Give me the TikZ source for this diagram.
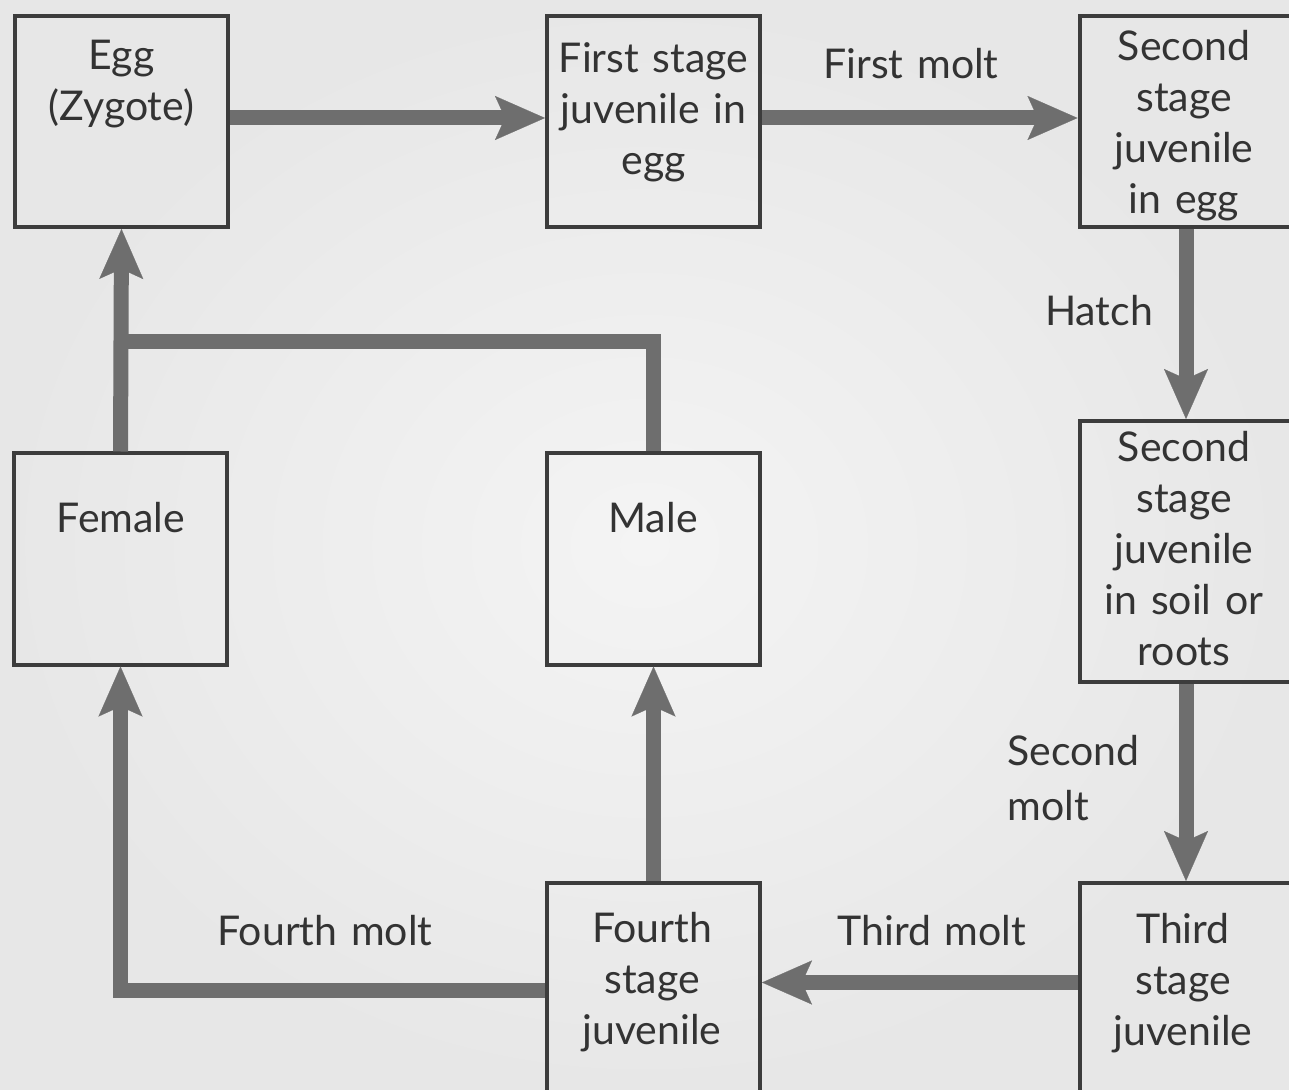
\documentclass[tikz,border=0pt]{standalone}
\usepackage{fontspec}
\setmainfont{Lato}[WordSpace=1.3]
\usetikzlibrary{arrows.meta,calc}
\definecolor{paperin}{HTML}{F4F4F4}
\definecolor{paperout}{HTML}{E7E7E7}
\definecolor{boxline}{HTML}{3C3C3C}
\definecolor{flowgray}{HTML}{6E6E6E}
\definecolor{ink}{HTML}{333333}
\begin{document}
\begin{tikzpicture}[x=0.5pt,y=-0.5pt,
  stagebox/.style={draw=boxline,line width=2pt,rectangle,inner sep=0pt,
    minimum width=106.5pt,minimum height=#1},
  stagebox/.default=105.5pt,
  flow/.style={draw=flowgray,line width=7.5pt,line join=miter,
    -{Stealth[length=25pt,width=22pt,inset=5pt,line width=0.1pt]}},
  bar/.style={draw=flowgray,line width=7.5pt,line join=miter},
  txt/.style={text=ink,font=\fontsize{20.5}{25.5}\selectfont,align=center,
    inner sep=0pt,anchor=north},
]
% paper
\useasboundingbox (0,0) rectangle (1289,1090);
\shade[inner color=paperin,outer color=paperout] (0,0) rectangle (1289,1090);

% stage boxes
\node[stagebox] (egg)    at (121.5,121.5) {};
\node[stagebox] (first)  at (653.5,121.5) {};
\node[stagebox] (egg2)   at (1186,121.5) {};
\node[stagebox=130.5pt] (soil) at (1186,551.5) {};
\node[stagebox] (third)  at (1186,988.5) {};
\node[stagebox] (fourth) at (653.5,988.5) {};
\node[stagebox] (female) at (120.5,559) {};
\node[stagebox] (male)   at (653.5,559) {};

% box texts
\node[txt] (egg-t)    at (121.5,40)  {Egg\\(Zygote)};
\node[txt] (first-t)  at (653.5,42)  {First stage\\juvenile in\\egg};
\node[txt] (egg2-t)   at (1184,30)   {Second\\stage\\juvenile\\in egg};
\node[txt] (soil-t)   at (1184,431)  {Second\\stage\\juvenile\\in soil or\\roots};
\node[txt] (female-t) at (121,502)   {Female};
\node[txt] (male-t)   at (653,502)   {Male};
\node[txt] (third-t)  at (1183,913)  {Third\\stage\\juvenile};
\node[txt] (fourth-t) at (652,912)   {Fourth\\stage\\juvenile};

% transition labels
\node[txt] (l-first)  at (911,48)   {First molt};
\node[txt] (l-hatch)  at (1099,295) {Hatch};
\node[txt,anchor=north west,align=left] (l-second) at (1007,735) {Second\\[2pt]molt};
\node[txt] (l-third)  at (932,915)  {Third molt};
\node[txt] (l-fourth) at (325,915)  {Fourth molt};

% connectors
\draw[flow] ([yshift=1.75pt]egg.east) -- ([yshift=1.75pt]first.west);
\draw[flow] ([yshift=1.75pt]first.east) -- ([yshift=1.75pt]egg2.west);
\draw[flow] (egg2.south) -- (soil.north);
\draw[flow] (soil.south) -- (third.north);
\draw[flow] ([yshift=3pt]third.west) -- ([yshift=3pt]fourth.west -| fourth.east);
\draw[flow] (fourth.north) -- (male.south);
\draw[flow] ([yshift=-1pt]fourth.west) -| (female.south);
\draw[flow] (female.north) -- (egg.south);
\coordinate (meet) at (120.5,342);
\draw[bar] (male.north) |- (meet);
\end{tikzpicture}
\end{document}
